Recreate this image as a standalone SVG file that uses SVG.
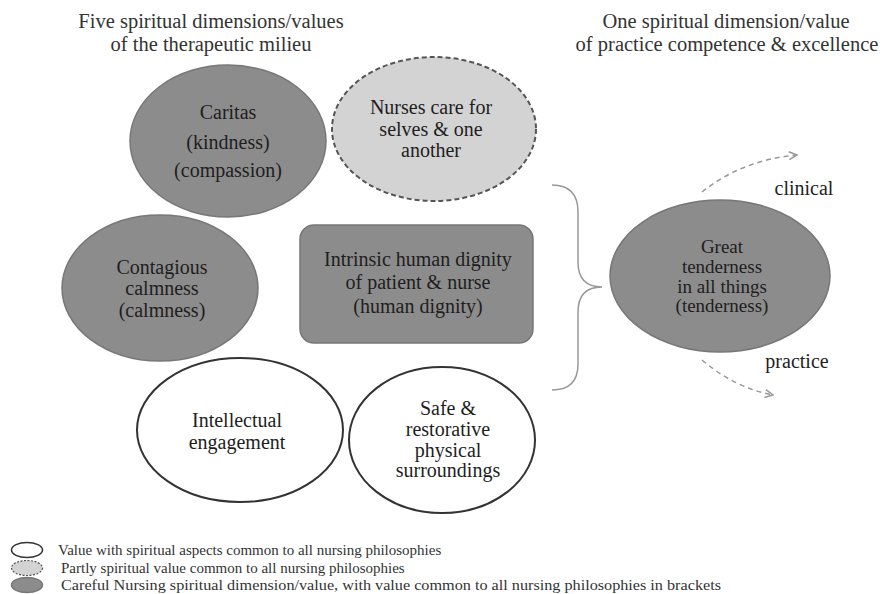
<svg xmlns="http://www.w3.org/2000/svg" width="886" height="594" viewBox="0 0 886 594">
<defs>
<style>
text{font-family:"Liberation Serif","Times New Roman",serif;fill:#1e1e1e;text-anchor:middle}
.node{font-size:20px}
.small{font-size:19px}
.hdr{font-size:20.5px;fill:#333}
.leg{font-size:15px;text-anchor:start;fill:#333}
.dark{fill:#8c8c8c;stroke:#777;stroke-width:1.5}
.light{fill:#d3d3d3;stroke:#555;stroke-width:2;stroke-dasharray:5 3}
.white{fill:#fff;stroke:#333;stroke-width:2}
.brace{fill:none;stroke:#999;stroke-width:1.5}
.dash{fill:none;stroke:#999;stroke-width:1.5;stroke-dasharray:5 4}
</style>
<marker id="chev" viewBox="0 0 10 10" refX="9" refY="5" markerWidth="10" markerHeight="10" markerUnits="userSpaceOnUse" orient="auto">
<path d="M1,1 L9,5 L1,9" fill="none" stroke="#999" stroke-width="1.5"/>
</marker>
</defs>
<rect width="886" height="594" fill="#fff"/>

<g id="headers">
<text x="211" y="28" class="hdr">Five spiritual dimensions/values</text>
<text x="211" y="51" class="hdr">of the therapeutic milieu</text>
<text x="726" y="28" class="hdr">One spiritual dimension/value</text>
<text x="727" y="51" class="hdr">of practice competence &amp; excellence</text>
</g>

<g id="connectors">
<path class="brace" d="M552,185 Q578,185 578,212 L578,262 Q578,287 602,287 Q578,287 578,312 L578,364 Q578,390 552,390"/>
<path class="dash" d="M702,192 Q742,160 797,155" marker-end="url(#chev)"/>
<path class="dash" d="M702,360 Q735,388 773,395" marker-end="url(#chev)"/>
</g>

<g id="caritas">
<ellipse class="dark" cx="228" cy="141" rx="98" ry="76"/>
<text class="node" x="228" y="119">Caritas</text>
<text class="node" x="228" y="149">(kindness)</text>
<text class="node" x="228" y="177">(compassion)</text>
</g>

<g id="nurses-care">
<ellipse class="light" cx="434" cy="129" rx="102" ry="72"/>
<text class="node" x="431" y="114">Nurses care for</text>
<text class="node" x="431" y="136">selves &amp; one</text>
<text class="node" x="431" y="157">another</text>
</g>

<g id="contagious-calmness">
<ellipse class="dark" cx="160" cy="288" rx="98" ry="73"/>
<text class="node" x="162" y="274">Contagious</text>
<text class="node" x="162" y="295">calmness</text>
<text class="node" x="162" y="317">(calmness)</text>
</g>

<g id="human-dignity">
<rect class="dark" x="300" y="225" width="233" height="118" rx="14"/>
<text class="node" x="418" y="266">Intrinsic  human dignity</text>
<text class="node" x="418" y="289">of patient &amp; nurse</text>
<text class="node" x="418" y="313">(human dignity)</text>
</g>

<g id="intellectual-engagement">
<ellipse class="white" cx="240" cy="430" rx="103" ry="72"/>
<text class="node" x="237" y="427">Intellectual</text>
<text class="node" x="237" y="449">engagement</text>
</g>

<g id="safe-surroundings">
<ellipse class="white" cx="442" cy="440" rx="93" ry="73"/>
<text class="node" x="448" y="415">Safe &amp;</text>
<text class="node" x="448" y="436">restorative</text>
<text class="node" x="448" y="457">physical</text>
<text class="node" x="448" y="477">surroundings</text>
</g>

<g id="great-tenderness">
<ellipse class="dark" cx="720" cy="276" rx="110" ry="76"/>
<text class="small" x="722" y="253">Great</text>
<text class="small" x="722" y="273">tenderness</text>
<text class="small" x="722" y="293">in all things</text>
<text class="small" x="722" y="312">(tenderness)</text>
</g>

<g id="labels">
<text class="node" x="804" y="195">clinical</text>
<text class="node" x="797" y="368">practice</text>
</g>

<g id="legend">
<ellipse class="white" cx="27" cy="550" rx="15.5" ry="7.5" style="stroke-width:1.5"/>
<text class="leg" x="58" y="555">Value with spiritual aspects common to all nursing philosophies</text>
<ellipse class="light" cx="27" cy="568" rx="15.5" ry="7.5" style="stroke-width:1.2;stroke-dasharray:2 1.5"/>
<text class="leg" x="61" y="573">Partly spiritual value common to all nursing philosophies</text>
<ellipse class="dark" cx="27" cy="585" rx="15.5" ry="7.5"/>
<text class="leg" x="61" y="590" textLength="660" lengthAdjust="spacingAndGlyphs">Careful Nursing  spiritual dimension/value, with value common to all nursing philosophies in brackets</text>
</g>
</svg>
